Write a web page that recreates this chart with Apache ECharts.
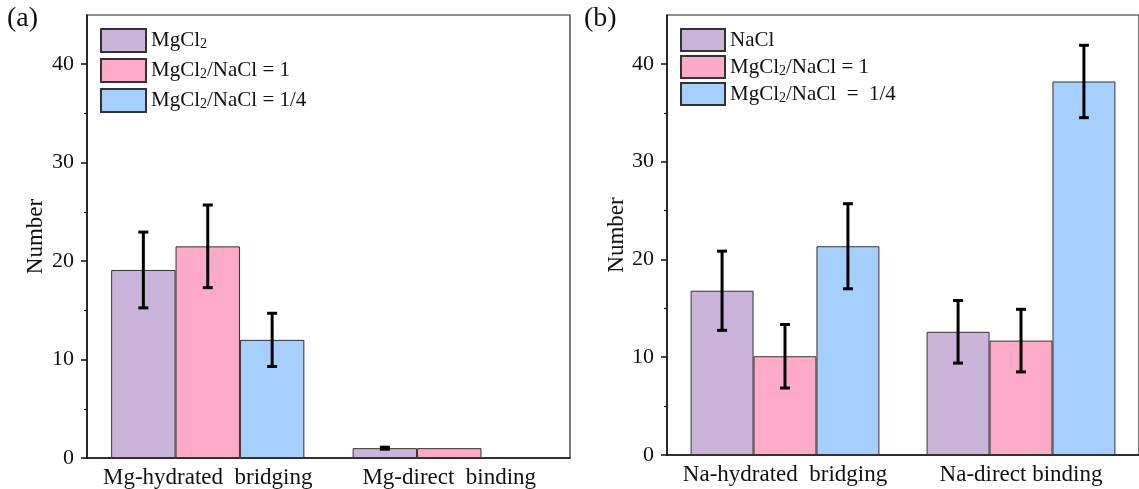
<!DOCTYPE html>
<html>
<head>
<meta charset="utf-8">
<script src="https://cdn.jsdelivr.net/npm/echarts@6/dist/echarts.min.js"></script>
<style>html,body{margin:0;padding:0;background:#fff;}#c{width:1139px;height:489px;}</style>
</head>
<body>
<div id="c"></div>
<script>
// ---- data ----
const categoriesA = ['Mg-hydrated  bridging', 'Mg-direct  binding'];
const categoriesB = ['Na-hydrated  bridging', 'Na-direct binding'];
const namesA = ['MgCl2', 'MgCl2/NaCl = 1', 'MgCl2/NaCl = 1/4'];
const namesB = ['NaCl', 'MgCl2/NaCl = 1', 'MgCl2/NaCl  =  1/4'];
const aMgCl2 = [19.1, 1.0];
const aMgCl2Err = [3.85, 0.1];
const aRatio1 = [21.5, 1.0];
const aRatio1Err = [4.2, 0];
const aRatio14 = [12.0, 0];
const aRatio14Err = [2.7, 0];
const bNaCl = [16.8, 12.6];
const bNaClErr = [4.05, 3.2];
const bRatio1 = [10.1, 11.7];
const bRatio1Err = [3.25, 3.2];
const bRatio14 = [21.35, 38.2];
const bRatio14Err = [4.35, 3.7];
const yMajorTicks = [0, 10, 20, 30, 40];
const yMinorTicks = [5, 15, 25, 35];
const yMax = 45;

const colors = ['#CBB4DA', '#FFAAC8', '#A4CFFF'];
const FONT = '"Liberation Serif", "Times New Roman", serif';

function errData(vals, errs, k) {
  const out = [];
  vals.forEach((v, i) => { if (errs[i] > 0) out.push([i, v - errs[i], v + errs[i], k]); });
  return out;
}

function renderErr(params, api) {
  const ci = api.value(0), lo = api.value(1), hi = api.value(2), k = api.value(3);
  const catW = api.size([1, 0])[0];
  const bw = catW * 0.8 / 3;
  const x = api.coord([ci, 0])[0] + (k - 1) * bw;
  const yLo = api.coord([ci, lo])[1];
  const yHi = api.coord([ci, hi])[1];
  const st = { stroke: '#000', lineWidth: 3 };
  return {
    type: 'group',
    children: [
      { type: 'line', shape: { x1: x, y1: yLo, x2: x, y2: yHi }, style: st },
      { type: 'line', shape: { x1: x - 5, y1: yLo, x2: x + 5, y2: yLo }, style: st },
      { type: 'line', shape: { x1: x - 5, y1: yHi, x2: x + 5, y2: yHi }, style: st }
    ]
  };
}

function legendFmt(name) {
  return name.replace(/MgCl2/g, '{n|MgCl}{s|2}').replace(/^([^{].*)$/, '{n|$1}')
    .replace(/\{s\|2\}([^{]+)/g, '{s|2}{n|$1}');
}

const richLegend = {
  n: { fontFamily: FONT, fontSize: 21, color: '#111', lineHeight: 22 },
  s: { fontFamily: FONT, fontSize: 14, color: '#111', lineHeight: 9, verticalAlign: 'bottom' }
};

function yAxes(grid) {
  return [
    {
      type: 'value', gridIndex: grid, min: 0, max: yMax, position: 'left',
      name: 'Number', nameLocation: 'middle', nameGap: grid === 0 ? 40 : 38,
      nameTextStyle: { fontFamily: FONT, fontSize: 23, color: '#111' },
      axisLine: { show: true, lineStyle: { color: '#111', width: 1.5 } },
      axisTick: { show: true, length: 6, customValues: yMajorTicks, lineStyle: { color: '#111', width: 1.5 } },
      axisLabel: { customValues: yMajorTicks, margin: 13, fontFamily: FONT, fontSize: 22, color: '#111' },
      splitLine: { show: false }
    },
    {
      type: 'value', gridIndex: grid, min: 0, max: yMax, position: 'left',
      axisLine: { show: false },
      axisTick: { show: true, length: 3, customValues: yMinorTicks, lineStyle: { color: '#111', width: 1.2 } },
      axisLabel: { show: false },
      splitLine: { show: false }
    }
  ];
}

function xAxis(grid, cats) {
  return {
    type: 'category', gridIndex: grid, data: cats,
    axisLine: { show: true, lineStyle: { color: '#111', width: 1.5 } },
    axisTick: { show: false },
    axisLabel: { interval: 0, margin: 8, fontFamily: FONT, fontSize: 23, color: '#111' },
    splitLine: { show: false }
  };
}

function bars(names, arrs, xi, yi) {
  return arrs.map((d, k) => ({
    type: 'bar', name: names[k], xAxisIndex: xi, yAxisIndex: yi, data: d,
    barGap: '0%', barCategoryGap: '20%',
    itemStyle: { color: colors[k], borderColor: '#333', borderWidth: 1 },
    emphasis: { disabled: true }
  }));
}

function errs(vals, errsArr, xi, yi) {
  return vals.map((v, k) => ({
    type: 'custom', xAxisIndex: xi, yAxisIndex: yi, z: 10,
    data: errData(v, errsArr[k], k), renderItem: renderErr,
    encode: { x: 0, y: [1, 2] }, silent: true
  }));
}

const option = {
  animation: false,
  backgroundColor: '#fff',
  grid: [
    { left: 87, top: 15, width: 483, height: 443, show: true, borderColor: '#222', borderWidth: 1.2, backgroundColor: 'transparent' },
    { left: 667, top: 15, width: 481, height: 440, show: true, borderColor: '#222', borderWidth: 1.2, backgroundColor: 'transparent' }
  ],
  xAxis: [xAxis(0, categoriesA), xAxis(1, categoriesB)],
  yAxis: [...yAxes(0), ...yAxes(1)],
  legend: [
    {
      data: namesA, orient: 'vertical', left: 100, top: 28, padding: 0, icon: 'rect',
      itemWidth: 45, itemHeight: 23, itemGap: 5,
      selectedMode: false, formatter: legendFmt, textStyle: { rich: richLegend }
    },
    {
      data: namesB, orient: 'vertical', left: 680, top: 28, padding: 0, icon: 'rect',
      itemWidth: 44, itemHeight: 22, itemGap: 3,
      selectedMode: false, formatter: legendFmt, textStyle: { rich: richLegend }
    }
  ],
  graphic: [
    { type: 'text', left: 7, top: 5, style: { text: '(a)', font: '28px ' + FONT, fill: '#111' } },
    { type: 'text', left: 584, top: 5, style: { text: '(b)', font: '28px ' + FONT, fill: '#111' } }
  ],
  series: [
    ...bars(namesA, [aMgCl2, aRatio1, aRatio14], 0, 0),
    ...bars(namesB, [bNaCl, bRatio1, bRatio14], 1, 2),
    ...errs([aMgCl2, aRatio1, aRatio14], [aMgCl2Err, aRatio1Err, aRatio14Err], 0, 0),
    ...errs([bNaCl, bRatio1, bRatio14], [bNaClErr, bRatio1Err, bRatio14Err], 1, 2)
  ]
};

const chart = echarts.init(document.getElementById('c'), null, { renderer: 'canvas' });
chart.setOption(option);
</script>
</body>
</html>
